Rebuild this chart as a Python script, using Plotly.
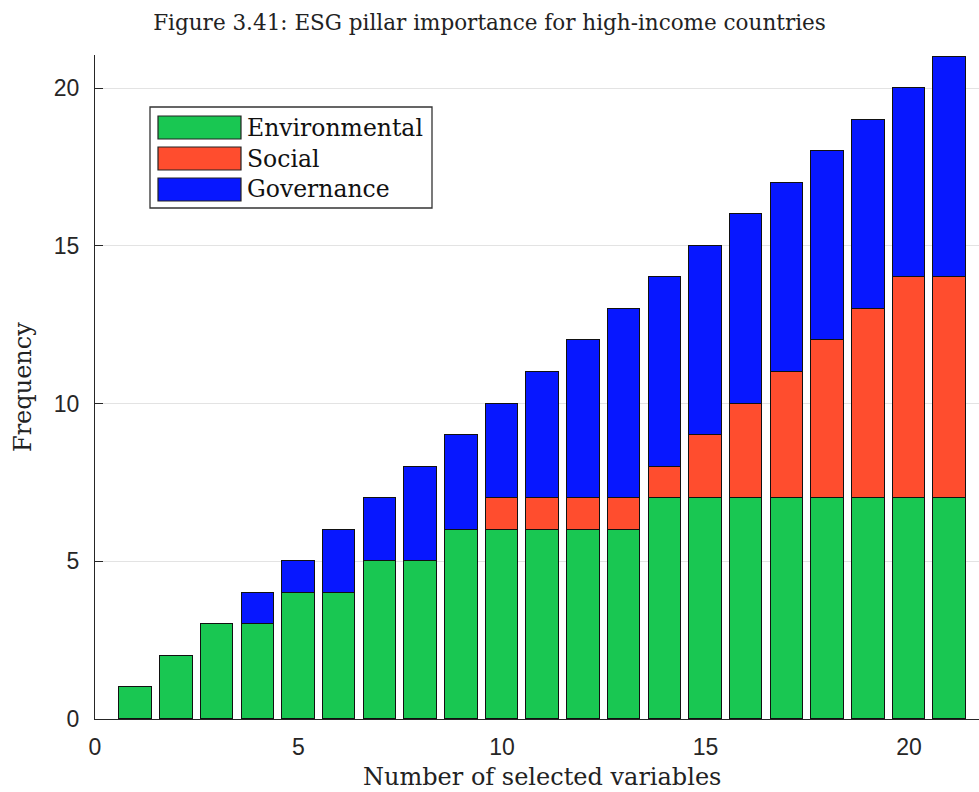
import plotly.graph_objects as go

# ---- data ----
n_selected = list(range(1, 22))
environmental = [1, 2, 3, 3, 4, 4, 5, 5, 6, 6, 6, 6, 6, 7, 7, 7, 7, 7, 7, 7, 7]
social =        [0, 0, 0, 0, 0, 0, 0, 0, 0, 1, 1, 1, 1, 1, 2, 3, 4, 5, 6, 7, 7]
governance =    [0, 0, 0, 1, 1, 2, 2, 3, 3, 3, 4, 5, 6, 6, 6, 6, 6, 6, 6, 6, 7]
series_names = ["Environmental", "Social", "Governance"]
series_colors = ["#19C752", "#FF4D2E", "#0717FF"]
x_ticks = [0, 5, 10, 15, 20]
y_ticks = [0, 5, 10, 15, 20]

title_text = "Figure 3.41: ESG pillar importance for high-income countries"
x_label = "Number of selected variables"
y_label = "Frequency"

# ---- figure ----
W, H = 979, 792
ML, MR, MT, MB = 95, 0, 55, 73
PW, PH = W - ML - MR, H - MT - MB

def px_x(p):
    return (p - ML) / PW

def px_y(p):
    return (H - MB - p) / PH

serif = "DejaVu Serif"
sans = "Liberation Sans, Arial, sans-serif"

fig = go.Figure()
for name, vals, col in zip(series_names, [environmental, social, governance], series_colors):
    fig.add_trace(go.Bar(
        x=n_selected, y=vals, name=name, width=0.8,
        marker=dict(color=col, line=dict(color="#111111", width=1.3)),
        showlegend=False,
    ))

shapes = []
annotations = []

# custom legend (MATLAB style wide swatches)
shapes.append(dict(type="rect", xref="paper", yref="paper",
                   x0=px_x(150), x1=px_x(432), y0=px_y(208), y1=px_y(107),
                   line=dict(color="#333333", width=1.3), fillcolor="white", layer="above"))
for i, (name, col) in enumerate(zip(series_names, series_colors)):
    top = 116 + i * 31
    shapes.append(dict(type="rect", xref="paper", yref="paper",
                       x0=px_x(158), x1=px_x(241), y0=px_y(top + 23), y1=px_y(top),
                       line=dict(color="#222222", width=1.2), fillcolor=col, layer="above"))
    annotations.append(dict(text=name, xref="paper", yref="paper",
                            x=px_x(245), y=px_y(top + 11.5), xanchor="left", yanchor="middle",
                            showarrow=False, font=dict(family=serif, size=23.5, color="#111111")))

# axis titles
annotations.append(dict(text=x_label, xref="paper", yref="paper",
                        x=px_x(542), y=px_y(777), xanchor="center", yanchor="middle",
                        showarrow=False, font=dict(family=serif, size=24, color="#222222")))
annotations.append(dict(text=y_label, xref="paper", yref="paper",
                        x=px_x(23), y=0.5, xanchor="center", yanchor="middle", textangle=-90,
                        showarrow=False, font=dict(family=serif, size=24, color="#222222")))

fig.update_layout(
    width=W, height=H,
    margin=dict(l=ML, r=MR, t=MT, b=MB, pad=0),
    paper_bgcolor="white", plot_bgcolor="white",
    barmode="stack", bargap=0,
    title=dict(text=title_text, x=0.5, xref="container", xanchor="center",
               y=1 - 22 / H, yref="container", yanchor="middle",
               font=dict(family=serif, size=21.5, color="#222222")),
    xaxis=dict(range=[0, 21.72], tickvals=x_ticks, ticks="inside", ticklen=0,
               showgrid=False, zeroline=False,
               showline=True, linecolor="#262626", linewidth=1.3,
               tickfont=dict(family=sans, size=23, color="#262626"),
               ticklabelstandoff=7),
    yaxis=dict(range=[0, 21.05], tickvals=y_ticks, ticks="inside", ticklen=8,
               tickcolor="#262626", tickwidth=1.3,
               showgrid=True, gridcolor="#E3E3E3", gridwidth=1,
               zeroline=False, layer="below traces",
               showline=True, linecolor="#262626", linewidth=1.3,
               tickfont=dict(family=sans, size=23, color="#262626"),
               ticklabelstandoff=10),
    shapes=shapes,
    annotations=annotations,
)

fig.write_html("out.html", config={"displayModeBar": False},
               post_script="document.body.style.margin='0';document.body.style.overflow='hidden';")
